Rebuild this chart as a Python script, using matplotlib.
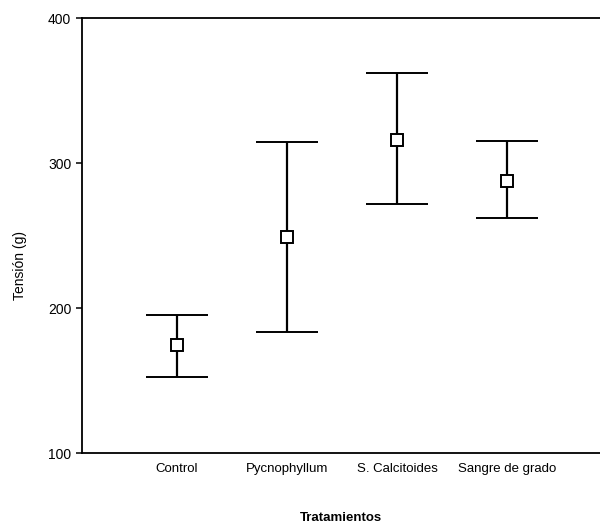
import matplotlib
matplotlib.use("Agg")
import matplotlib.pyplot as plt
import numpy as np

plt.rcParams['font.family'] = ['Liberation Sans', 'DejaVu Sans']

categories = ["Control", "Pycnophyllum", "S. Calcitoides", "Sangre de grado"]
means = [174.5, 249.0, 316.0, 287.6]
upper = [195.2, 314.5, 362.0, 315.2]
lower = [152.4, 183.7, 271.6, 261.8]

x = np.arange(1, len(categories) + 1)
means_a = np.array(means)
yerr = np.vstack([means_a - np.array(lower), np.array(upper) - means_a])

fig = plt.figure(figsize=(6.0, 5.27), dpi=100)
ax = fig.add_axes([0.1367, 0.1404, 0.8633, 0.8254])

ax.errorbar(x, means_a, yerr=yerr, fmt='s', color='black', ecolor='black',
            elinewidth=1.6, capsize=22.3, capthick=1.6,
            markersize=8, markerfacecolor='white', markeredgecolor='black',
            markeredgewidth=1.4)

ax.set_xlim(0.136, 4.845)
ax.set_ylim(100, 400)
ax.set_yticks([100, 200, 300, 400])
ax.set_xticks(x)
ax.set_xticklabels(categories, fontsize=9.5)
ax.tick_params(axis='x', length=0, pad=7)
ax.tick_params(axis='y', length=4.3, width=1.1, pad=3.5, labelsize=10, direction='out')

for s in ['left', 'bottom', 'top']:
    ax.spines[s].set_linewidth(1.3)
ax.spines['right'].set_visible(False)

ax.set_ylabel("Tensión (g)", fontsize=10, va='center')
ax.yaxis.set_label_coords(-0.119, 0.432)
ax.set_xlabel("Tratamientos", fontsize=9.5, fontweight='bold', va='center')
ax.xaxis.set_label_coords(0.5, -0.149)

fig.savefig("out.png", dpi=100)
